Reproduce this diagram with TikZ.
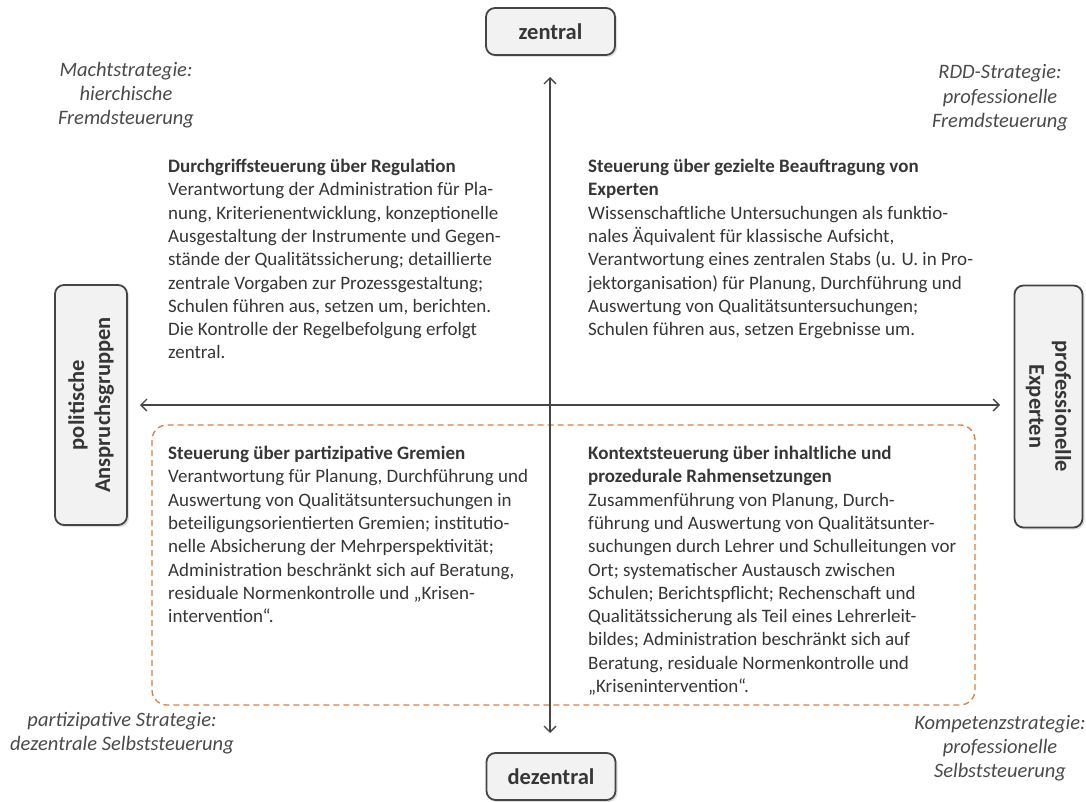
\documentclass[tikz,border=0pt]{standalone}
\usepackage{fontspec}
\setmainfont{Carlito}
\usetikzlibrary{arrows.meta,shadows}
\definecolor{txt}{HTML}{363636}
\definecolor{lbl}{HTML}{4A4A4A}
\definecolor{axc}{HTML}{454545}
\definecolor{boxfill}{HTML}{F2F2F2}
\definecolor{dashor}{HTML}{E07B39}
\tikzset{
  axisbox/.style={draw=axc, line width=1.8pt, fill=boxfill, rounded corners=9pt,
    drop shadow={opacity=0.25, shadow xshift=2pt, shadow yshift=-2pt},
    font=\fontsize{22.5}{26}\selectfont\bfseries, text=txt, align=center, inner sep=0pt},
  axisarrow/.style={draw=axc, line width=1.3pt, {Straight Barb[length=6pt,width=12pt]}-{Straight Barb[length=6pt,width=12pt]}},
  quadtext/.style={font=\fontsize{19}{23.3}\selectfont, text=txt, align=left, inner sep=0pt, anchor=north west},
  stratlabel/.style={font=\fontsize{20.5}{24.3}\selectfont\itshape, text=lbl, align=center, inner sep=0pt},
  dashframe/.style={draw=dashor, line width=1.3pt, dash pattern=on 6pt off 4pt, rounded corners=15pt}
}
\begin{document}
\begin{tikzpicture}[x=1pt,y=-1pt]
\useasboundingbox (0,0) rectangle (1086,802);
% axis boxes
\node[axisbox, minimum width=129pt, minimum height=47pt] (zentral) at (550.5,31.5) {zentral};
\node[axisbox, minimum width=129pt, minimum height=47pt] (dezentral) at (551,776.5) {dezentral};
\node[axisbox, rotate=90, minimum width=240pt, minimum height=72pt] (politisch) at (91,405) {politische\\Anspruchsgruppen};
\node[axisbox, rotate=-90, minimum width=242pt, minimum height=68pt] (experten) at (1048.5,406.5) {professionelle\\Experten};
% dashed frame
\draw[dashframe] (152,425) rectangle (975,705);
% axes
\coordinate (vt) at (550,77);
\coordinate (vb) at (550,733);
\coordinate (hl) at (140,405);
\coordinate (hr) at (1000,405);
\draw[axisarrow] (vt) -- (vb);
\draw[axisarrow] (hl) -- (hr);
% strategy labels
\node[stratlabel] (macht) at (126,95) {Machtstrategie:\\hierchische\\Fremdsteuerung};
\node[stratlabel] (rdd) at (1000,98) {RDD-Strategie:\\professionelle\\Fremdsteuerung};
\node[stratlabel] (partiz) at (122,733) {partizipative Strategie:\\dezentrale Selbststeuerung};
\node[stratlabel] (kompetenz) at (1000,748) {Kompetenzstrategie:\\professionelle\\Selbststeuerung};
% quadrant texts
\node[quadtext] (q1) at (168,159) {\textbf{Durchgriffsteuerung über Regulation}\\
Verantwortung der Administration für Pla-\\
nung, Kriterienentwicklung, konzeptionelle\\
Ausgestaltung der Instrumente und Gegen-\\
stände der Qualitätssicherung; detaillierte\\
zentrale Vorgaben zur Prozessgestaltung;\\
Schulen führen aus, setzen um, berichten.\\
Die Kontrolle der Regelbefolgung erfolgt\\
zentral.};
\node[quadtext] (q2) at (588,159) {\textbf{Steuerung über gezielte Beauftragung von}\\
\textbf{Experten}\\
Wissenschaftliche Untersuchungen als funktio-\\
nales Äquivalent für klassische Aufsicht,\\
Verantwortung eines zentralen Stabs (u. U. in Pro-\\
jektorganisation) für Planung, Durchführung und\\
Auswertung von Qualitätsuntersuchungen;\\
Schulen führen aus, setzen Ergebnisse um.};
\node[quadtext] (q3) at (168,446) {\textbf{Steuerung über partizipative Gremien}\\
Verantwortung für Planung, Durchführung und\\
Auswertung von Qualitätsuntersuchungen in\\
beteiligungsorientierten Gremien; institutio-\\
nelle Absicherung der Mehrperspektivität;\\
Administration beschränkt sich auf Beratung,\\
residuale Normenkontrolle und „Krisen-\\
intervention“.};
\node[quadtext] (q4) at (588,446) {\textbf{Kontextsteuerung über inhaltliche und}\\
\textbf{prozedurale Rahmensetzungen}\\
Zusammenführung von Planung, Durch-\\
führung und Auswertung von Qualitätsunter-\\
suchungen durch Lehrer und Schulleitungen vor\\
Ort; systematischer Austausch zwischen\\
Schulen; Berichtspflicht; Rechenschaft und\\
Qualitätssicherung als Teil eines Lehrerleit-\\
bildes; Administration beschränkt sich auf\\
Beratung, residuale Normenkontrolle und\\
„Krisenintervention“.};
\end{tikzpicture}
\end{document}
